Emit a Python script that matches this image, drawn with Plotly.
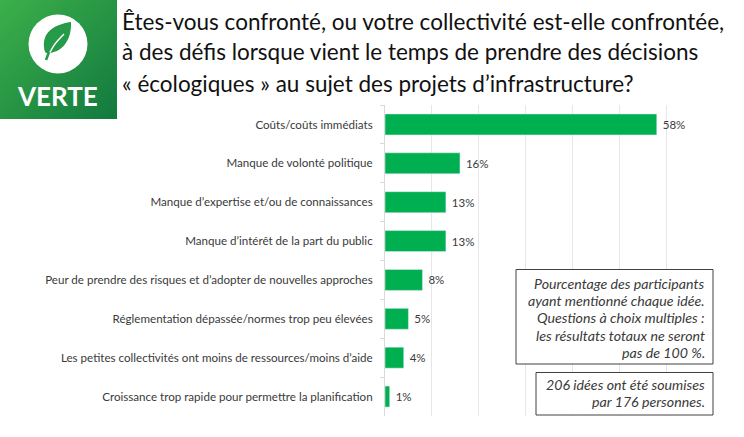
"""Barres horizontales : défis des décisions écologiques, avec logo VERTE."""
import base64

import plotly.graph_objects as go

categories = [
    "Coûts/coûts immédiats",
    "Manque de volonté politique",
    "Manque d’expertise et/ou de connaissances",
    "Manque d’intérêt de la part du public",
    "Peur de prendre des risques et d’adopter de nouvelles approches",
    "Réglementation dépassée/normes trop peu élevées",
    "Les petites collectivités ont moins de ressources/moins d’aide",
    "Croissance trop rapide pour permettre la planification",
]
values = [58, 16, 13, 13, 8, 5, 4, 1]

title_lines = [
    "Êtes-vous confronté, ou votre collectivité est-elle confrontée,",
    "à des défis lorsque vient le temps de prendre des décisions",
    "« écologiques » au sujet des projets d’infrastructure?",
]
note_one = [
    "Pourcentage des participants",
    "ayant mentionné chaque idée.",
    "Questions à choix multiples :",
    "les résultats totaux ne seront",
    "pas de 100 %.",
]
note_two = ["206 idées ont été soumises", "par 176 personnes."]

W, H = 744, 437
LEFT, RIGHT, TOP, BOTTOM = 385, 713, 105, 416
FONT = "Lato"
TEXT = "#3a3a3a"

# logo : degrade, cercle blanc et feuille
logo_svg = """<svg xmlns="http://www.w3.org/2000/svg" width="117" height="119" viewBox="0 0 117 119">
<defs><linearGradient id="g" x1="0" y1="0" x2="1" y2="1">
<stop offset="0" stop-color="#3cb04a"/><stop offset="1" stop-color="#12793f"/></linearGradient></defs>
<rect width="117" height="119" fill="url(#g)"/>
<circle cx="58" cy="44" r="29.5" fill="#ffffff"/>
<path d="M71 22 C52 25 43 33 44 47 C44 50 45 52 46 53 C60 54 72 42 71 22 Z" fill="#259a48"/>
<path d="M47 60 C50 49 56 42 64 34" stroke="#ffffff" stroke-width="1.5" fill="none"/>
<path d="M46 60 L49 52" stroke="#259a48" stroke-width="2.5" fill="none"/>
</svg>"""
logo_uri = "data:image/svg+xml;base64," + base64.b64encode(logo_svg.encode()).decode()


# paper = zone de trace, donc conversion depuis les pixels de la page
def px_x(v):
    return (v - LEFT) / (RIGHT - LEFT)


def px_y(v):
    return (BOTTOM - v) / (BOTTOM - TOP)


fig = go.Figure(go.Bar(
    x=values,
    y=categories,
    orientation="h",
    marker_color="#00b050",
    width=0.54,
    text=[f"\u00a0{v}%" for v in values],
    textposition="outside",
    cliponaxis=False,
    textfont=dict(family=FONT, size=11.5, color=TEXT),
))

fig.add_layout_image(
    source=logo_uri, xref="paper", yref="paper",
    x=px_x(0), y=px_y(0), sizex=117 / (RIGHT - LEFT), sizey=119 / (BOTTOM - TOP),
    xanchor="left", yanchor="top", sizing="stretch", layer="above",
)

annotations = [
    dict(text="VERTE", x=px_x(57), y=px_y(96), font=dict(
        family="Lato", size=26, color="white", weight="bold")),
]
for i, line in enumerate(title_lines):
    annotations.append(dict(
        text=line, x=px_x(120), y=px_y(21 + i * 31), xanchor="left",
        font=dict(family=FONT, size=22.5, color="#111111"),
    ))
for i, line in enumerate(note_one):
    annotations.append(dict(
        text=line, x=px_x(707), y=px_y(283 + i * 17.4), xanchor="right",
        font=dict(family=FONT, size=14.2, color=TEXT, style="italic"),
    ))
for i, line in enumerate(note_two):
    annotations.append(dict(
        text=line, x=px_x(707), y=px_y(384.5 + i * 17.4), xanchor="right",
        font=dict(family=FONT, size=14.2, color=TEXT, style="italic"),
    ))
for a in annotations:
    a.update(xref="paper", yref="paper", showarrow=False, yanchor="middle")
    a.setdefault("xanchor", "center")

box = dict(type="rect", xref="paper", yref="paper", fillcolor="white",
           line=dict(color="#404040", width=1), layer="above")
shapes = [
    dict(box, x0=px_x(516), x1=px_x(713), y0=px_y(269.5), y1=px_y(364)),
    dict(box, x0=px_x(536), x1=px_x(713), y0=px_y(372.5), y1=px_y(415)),
]

fig.update_layout(
    width=W, height=H, autosize=False,
    margin=dict(l=LEFT, r=W - RIGHT, t=TOP, b=H - BOTTOM, pad=0),
    paper_bgcolor="white", plot_bgcolor="white",
    showlegend=False,
    font=dict(family=FONT, color=TEXT),
    annotations=annotations,
    shapes=shapes,
    xaxis=dict(
        range=[0, 70], dtick=10, showticklabels=False, ticks="",
        showgrid=True, gridcolor="#e6e6e6", gridwidth=1, zeroline=False,
    ),
    yaxis=dict(
        autorange="reversed", type="category", tickson="boundaries",
        ticks="outside", ticklen=4, tickcolor="#d9d9d9",
        showline=True, linecolor="#d9d9d9", linewidth=1,
        tickfont=dict(family=FONT, size=11.6, color=TEXT), ticklabelstandoff=9,
    ),
)

# la page doit commencer au pixel 0 : le logo touche le bord
fig.write_html(
    "out.html",
    config={"displayModeBar": False},
    post_script="document.body.style.margin='0';",
)
